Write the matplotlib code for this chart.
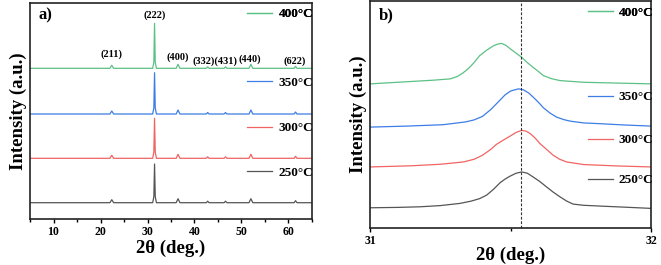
import matplotlib.pyplot as plt
from matplotlib.ticker import MultipleLocator

plt.rcParams['font.family'] = ['Liberation Serif', 'DejaVu Serif']
plt.rcParams['font.weight'] = 'bold'

labels = ['250°C', '300°C', '350°C', '400°C']
colors = ['#555555', '#f06464', '#3c7de6', '#5cc184']

# panel a: full pattern, peaks
xa = [5, 22.0, 22.4, 22.8, 31.1, 31.35, 31.5, 31.65, 31.9, 36.1, 36.5, 36.9,
      42.5, 42.8, 43.1, 46.3, 46.6, 46.9, 51.6, 52.0, 52.4, 61.2, 61.5, 61.8, 65]
peak_rel = [0, 0, 3, 0, 0, 6, 1, 6, 0, 0, 4, 0,
            0, 1.5, 0, 0, 1.5, 0, 0, 4, 0, 0, 2, 0, 0]
base_a = [16.3, 60.7, 105, 150.7]
main_a = [38.7, 40.0, 41.3, 45.0]

hkl = ['(211)', '(222)', '(400)', '(332)(431)', '(440)', '(622)']
hkl_x = [22.4, 31.5, 36.5, 44.4, 51.8, 61.4]
hkl_y = [165, 204, 162, 158, 160, 158]

# panel b: (222) peak zoom
xb = {
    '250°C': [31.00, 31.10, 31.178, 31.25, 31.32, 31.36, 31.39, 31.415, 31.44, 31.463,
              31.48, 31.498, 31.52, 31.54, 31.56, 31.58, 31.605, 31.628, 31.652, 31.676,
              31.70, 31.723, 31.76, 31.82, 31.90, 32.00],
    '300°C': [31.00, 31.15, 31.25, 31.332, 31.37, 31.40, 31.43, 31.45, 31.47, 31.50,
              31.52, 31.54, 31.555, 31.569, 31.587, 31.605, 31.63, 31.652, 31.675, 31.70,
              31.76, 31.88, 32.00],
    '350°C': [31.00, 31.13, 31.26, 31.34, 31.37, 31.40, 31.43, 31.463, 31.48, 31.50,
              31.528, 31.546, 31.565, 31.581, 31.60, 31.617, 31.64, 31.664, 31.69, 31.712,
              31.76, 31.82, 31.90, 32.00],
    '400°C': [31.00, 31.14, 31.22, 31.285, 31.31, 31.33, 31.35, 31.37, 31.39, 31.415,
              31.44, 31.455, 31.468, 31.483, 31.50, 31.52, 31.54, 31.56, 31.58, 31.60,
              31.617, 31.645, 31.676, 31.76, 31.88, 32.00],
}
yb = {
    '250°C': [20.3, 20.7, 21.3, 22.5, 24.7, 27, 29.5, 33, 39, 45.5,
              49, 52, 55, 56.3, 55, 51.3, 46.5, 41.3, 36, 31.3,
              27, 24, 22.8, 22, 21, 19.7],
    '300°C': [61.3, 62.5, 64, 66.3, 69, 73, 79, 84, 87.5, 92.5,
              96, 98, 97.3, 95, 90.5, 84.7, 78.5, 73, 69, 66.3,
              63.7, 62.3, 61.3],
    '350°C': [101.3, 102.3, 103.7, 106.5, 108.5, 112, 119, 128.5, 133.5, 137.5,
              139.7, 138.7, 135.5, 131.3, 126, 120.7, 115.5, 111.3, 108.8, 107.3,
              105.5, 104.7, 103.5, 102.3],
    '400°C': [144.7, 147, 148.3, 149.7, 152, 155.5, 160, 166, 173, 178.5,
              183, 184.7, 185.3, 183.5, 179.7, 175.5, 171.3, 166, 161.3, 157,
              153, 150, 148, 146.3, 145.5, 144.7],
}
peak_pos = 31.539

fig = plt.figure(figsize=(6.61, 2.65), dpi=100)
axa = fig.add_axes([0.0454, 0.1736, 0.4266, 0.815])
axb = fig.add_axes([0.5598, 0.1396, 0.4251, 0.857])

leg_y_a = [0.213, 0.421, 0.63, 0.949]
leg_y_b = [0.211, 0.386, 0.576, 0.949]

for i, lab in enumerate(labels):
    ya = []
    for x, r in zip(xa, peak_rel):
        if x == 31.5:
            ya.append(base_a[i] + main_a[i])
        else:
            ya.append(base_a[i] + r)
    ln, = axa.plot(xa, ya, color=colors[i], lw=0.9)
    leg = axa.legend([ln], [lab], loc='center left', bbox_to_anchor=(0.77, leg_y_a[i]),
                     frameon=False, handlelength=1.9, handletextpad=0.5,
                     borderpad=0, borderaxespad=0, prop={'size': 9.5, 'weight': 'bold'})
    axa.add_artist(leg)
    ln2, = axb.plot(xb[lab], yb[lab], color=colors[i], lw=0.9)
    leg = axb.legend([ln2], [lab], loc='center left', bbox_to_anchor=(0.776, leg_y_b[i]),
                     frameon=False, handlelength=1.9, handletextpad=0.4,
                     borderpad=0, borderaxespad=0, prop={'size': 9.5, 'weight': 'bold'})
    axb.add_artist(leg)

for t, x, y in zip(hkl, hkl_x, hkl_y):
    axa.text(x, y, t, ha='center', va='center', fontsize=7.5, fontweight='bold')

axb.axvline(peak_pos, color='#333333', lw=0.8, ls=(0, (2.5, 1.5)))

axa.set_xlim(5, 65)
axa.set_ylim(0, 216)
axa.xaxis.set_major_locator(MultipleLocator(10))
axa.xaxis.set_minor_locator(MultipleLocator(5))
axa.set_yticks([])
axa.text(0.03, 0.944, 'a)', transform=axa.transAxes, fontsize=12, fontweight='bold',
         va='center')

axb.set_xlim(31, 32)
axb.set_ylim(0, 228)
axb.set_xticks([31, 32])
axb.xaxis.set_minor_locator(MultipleLocator(0.5))
axb.set_yticks([])
axb.text(0.03, 0.934, 'b)', transform=axb.transAxes, fontsize=12, fontweight='bold',
         va='center')

for ax in (axa, axb):
    for s in ax.spines.values():
        s.set_linewidth(1.2)
        s.set_color('#222222')
    ax.tick_params(axis='x', which='major', direction='out', length=3, width=1,
                   labelsize=8.5, pad=2)
    ax.tick_params(axis='x', which='minor', direction='out', length=2, width=1)
    for t in ax.get_xticklabels():
        t.set_fontweight('bold')
    ax.set_ylabel('Intensity (a.u.)', fontsize=13.5, fontweight='bold', labelpad=2)

axa.set_xlabel('2θ (deg.)', fontsize=13.5, fontweight='bold', labelpad=1)
axb.set_xlabel('2θ (deg.)', fontsize=13.5, fontweight='bold', labelpad=0)

fig.savefig('out.png', dpi=100)
